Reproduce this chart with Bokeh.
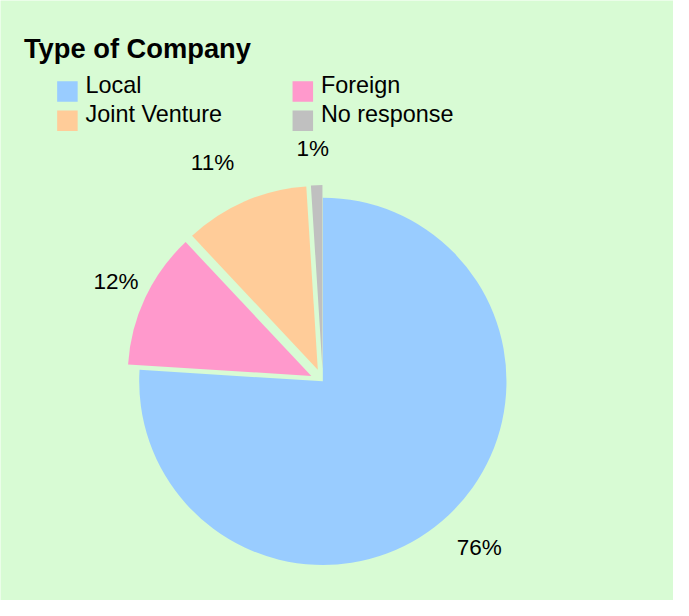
import math
from bokeh.plotting import figure
from bokeh.models import Range1d, ColumnDataSource
from bokeh.core.properties import value
from bokeh.embed import file_html
from bokeh.resources import INLINE

# ---- data ----
categories = ["Local", "Foreign", "Joint Venture", "No response"]
values = [76, 12, 11, 1]
colors = ["#99ccff", "#ff99cc", "#ffcc99", "#c0c0c0"]
title_text = "Type of Company"

# ---- style ----
W, H = 673, 600          # canvas in pixels
DW, DH = 689, 616        # drawing space (reference pixel units)
S = W / DW               # pixel scale of one drawing unit
BG = "#d8fbd4"
CX, CY = 330, DH - 391
R = 188
explode = [0, 13, 13, 13]
label_r = 234
label_nudge = [(0, 0), (0, 3), (-20, 10), (-3, 5)]  # (dx, dy) in drawing units
FONT = "'Liberation Sans', Arial, sans-serif"
LABEL_FS = 23 * S
LEG_FS = 24 * S
TITLE_FS = 28 * S

p = figure(width=W, height=H, output_backend="svg", toolbar_location=None,
           x_range=Range1d(0, DW), y_range=Range1d(0, DH), min_border=0)
p.axis.visible = False
p.grid.visible = False
p.outline_line_color = None
p.background_fill_color = BG
p.border_fill_color = BG

total = float(sum(values))
xs, ys, starts, ends, lx, ly, labels = [], [], [], [], [], [], []
cum = 0.0
for i, v in enumerate(values):
    a0 = cum / total
    cum += v
    a1 = cum / total
    start = math.radians(90 - 360 * a1)
    end = math.radians(90 - 360 * a0)
    mid = (start + end) / 2
    xs.append(CX + explode[i] * math.cos(mid))
    ys.append(CY + explode[i] * math.sin(mid))
    starts.append(start); ends.append(end)
    lx.append(CX + label_r * math.cos(mid) + label_nudge[i][0])
    ly.append(CY + label_r * math.sin(mid) + label_nudge[i][1])
    labels.append(f"{v}%")

src = ColumnDataSource(dict(x=xs, y=ys, start=starts, end=ends, color=colors))
p.wedge(x="x", y="y", radius=R, start_angle="start", end_angle="end",
        direction="anticlock", fill_color="color", line_color=None, source=src)

lsrc = ColumnDataSource(dict(x=lx, y=ly, text=labels))
p.text(x="x", y="y", text="text", source=lsrc, text_font=value(FONT),
       text_font_size=f"{LABEL_FS:.1f}px", text_align="center",
       text_baseline="middle", text_color="#000000")

# title
p.text(x=[24], y=[DH - 49.5], text=[title_text], text_font=value(FONT),
       text_font_size=f"{TITLE_FS:.1f}px", text_font_style="bold",
       text_baseline="middle", text_color="#000000")

# legend
sq_x, sq_y, tx, ty = [], [], [], []
for i, c in enumerate(categories):
    col, row = i % 2, i // 2
    sq_x.append(58 + 10.5 + col * 241)
    sq_y.append(DH - (83 + 10.5 + row * 30))
    tx.append(87 + col * 241)
    ty.append(DH - (87 + row * 30))
p.rect(x=sq_x, y=sq_y, width=21, height=21, fill_color=colors, line_color=None)
p.text(x=tx, y=ty, text=categories, text_font=value(FONT),
       text_font_size=f"{LEG_FS:.1f}px", text_baseline="middle", text_color="#000000")

open("out.html", "w").write(file_html(p, INLINE))
